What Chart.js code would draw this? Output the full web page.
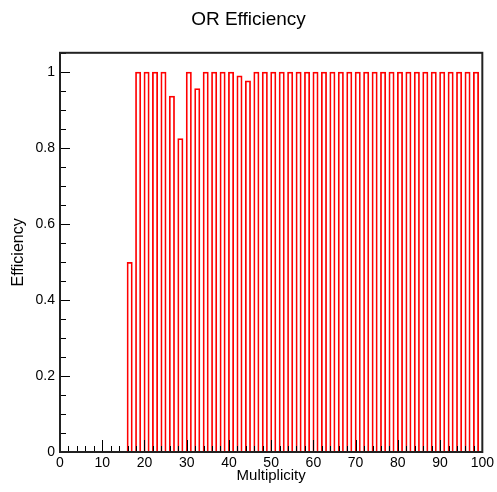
<!DOCTYPE html>
<html>
<head>
<meta charset="utf-8">
<title>OR Efficiency</title>
<script src="https://cdn.jsdelivr.net/npm/chart.js@4.4.1/dist/chart.umd.min.js"></script>
<style>
  body { margin: 0; background: #fff; }
  #wrap { position: relative; width: 497px; height: 492px; }
</style>
</head>
<body>
<div id="wrap"><canvas id="chart" width="497" height="492"></canvas></div>
<script>
// lower edge of each filled multiplicity bin (bins are 1 wide)
const binLow = [16, 18, 20, 22, 24, 26, 28, 30, 32, 34, 36, 38, 40, 42, 44, 46, 48, 50, 52, 54, 56,
                58, 60, 62, 64, 66, 68, 70, 72, 74, 76, 78, 80, 82, 84, 86, 88, 90, 92, 94, 96, 98];
const efficiency = [0.5, 1, 1, 1, 1, 0.937, 0.825, 1, 0.957, 1, 1, 1, 1, 0.99, 0.977, 1, 1, 1, 1, 1, 1,
                    1, 1, 1, 1, 1, 1, 1, 1, 1, 1, 1, 1, 1, 1, 1, 1, 1, 1, 1, 1, 1];
const xTicks = [0, 10, 20, 30, 40, 50, 60, 70, 80, 90, 100];
const yTicks = [0, 0.2, 0.4, 0.6, 0.8, 1];

const FONT = "'Liberation Sans', Arial, Helvetica, sans-serif";

// ROOT style frame with ticks pointing inwards
const rootFrame = {
  id: 'rootFrame',
  afterDatasetsDraw(chart) {
    const { ctx, chartArea: a, scales: { x, y } } = chart;
    ctx.save();
    ctx.strokeStyle = '#000';
    ctx.lineWidth = 1;
    ctx.beginPath();
    // x ticks: major every 10, minor every 2
    for (let v = 0; v <= 100; v += 2) {
      const px = Math.round(x.getPixelForValue(v)) + 0.5;
      const len = v % 10 === 0 ? 12 : 6;
      ctx.moveTo(px, a.bottom);
      ctx.lineTo(px, a.bottom - len);
    }
    // y ticks: major every 0.2, minor every 0.05
    for (let i = 0; i <= 21; i++) {
      const py = Math.round(y.getPixelForValue(i * 0.05)) + 0.5;
      const len = i % 4 === 0 ? 10 : 6;
      ctx.moveTo(a.left, py);
      ctx.lineTo(a.left + len, py);
    }
    ctx.stroke();
    ctx.lineWidth = 2;
    ctx.strokeStyle = '#222';
    ctx.strokeRect(a.left, a.top, a.right - a.left, a.bottom - a.top);
    ctx.restore();
  }
};

new Chart(document.getElementById('chart').getContext('2d'), {
  type: 'bar',
  data: {
    datasets: [{
      label: 'Efficiency',
      data: binLow.map((b, i) => ({ x: b + 0.5, y: efficiency[i] })),
      backgroundColor: 'rgba(0,0,0,0)',
      borderColor: '#ff0000',
      borderWidth: 1.75,
      categoryPercentage: 1,
      barPercentage: 0.71   // bin width plus the outline, like ROOT's centred stroke
    }]
  },
  options: {
    responsive: false,
    animation: false,
    layout: { padding: 0 },
    scales: {
      x: {
        type: 'linear',
        min: 0,
        max: 100,
        offset: false,
        grid: { display: false, drawTicks: false },
        border: { display: false },
        afterBuildTicks: s => { s.ticks = xTicks.map(v => ({ value: v })); },
        afterFit: s => { s.height = 40; },
        ticks: {
          padding: 3,
          maxRotation: 0,
          autoSkip: false,
          color: '#000',
          font: { family: FONT, size: 14 }
        },
        title: {
          display: true,
          text: 'Multiplicity',
          color: '#000',
          font: { family: FONT, size: 15 },
          padding: { top: 0, bottom: 7 }
        }
      },
      y: {
        min: 0,
        max: 1.05,
        grid: { display: false, drawTicks: false },
        border: { display: false },
        afterBuildTicks: s => { s.ticks = yTicks.map(v => ({ value: v })); },
        afterFit: s => { s.width = 60; },
        ticks: {
          padding: 5,
          color: '#000',
          font: { family: FONT, size: 14 },
          callback: v => String(v)
        },
        title: {
          display: true,
          text: 'Efficiency',
          color: '#000',
          font: { family: FONT, size: 16 },
          padding: { top: 9, bottom: 0 }
        }
      },
      // empty right margin so the title stays centred on the whole canvas
      yRight: {
        position: 'right',
        display: true,
        grid: { display: false, drawTicks: false },
        border: { display: false },
        ticks: { display: false },
        afterFit: s => { s.width = 14; }
      }
    },
    plugins: {
      legend: { display: false },
      tooltip: { enabled: false },
      title: {
        display: true,
        text: 'OR Efficiency',
        color: '#000',
        font: { family: FONT, size: 19, weight: 'normal' },
        padding: { top: 8, bottom: 22 }
      }
    }
  },
  plugins: [rootFrame]
});
</script>
</body>
</html>
